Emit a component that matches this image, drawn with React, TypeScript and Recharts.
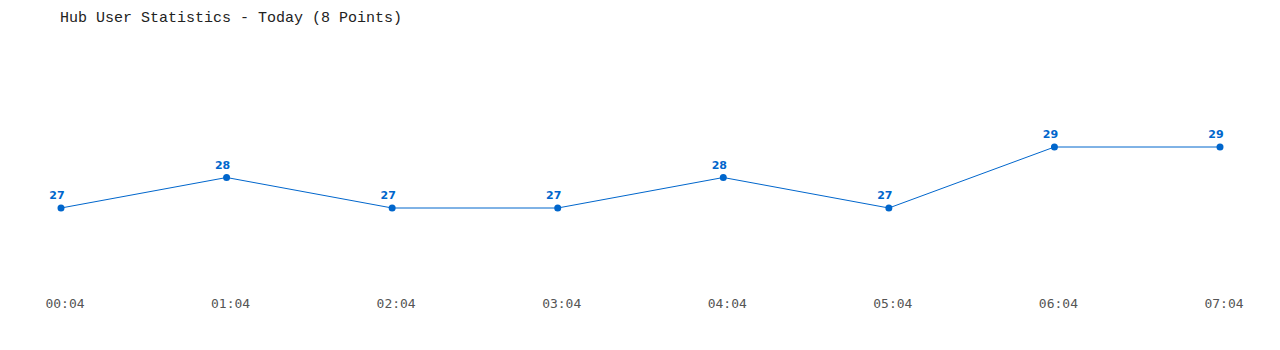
import { LineChart, Line, XAxis, YAxis, LabelList } from "recharts";

const times = ["00:04", "01:04", "02:04", "03:04", "04:04", "05:04", "06:04", "07:04"];
const users = [27, 28, 27, 27, 28, 27, 29, 29];

const data = times.map((t, i) => ({ time: t, users: users[i] }));

export default function App() {
  return (
    <div style={{ position: "fixed", top: 0, left: 0, width: 1280, height: 350, background: "#fff" }}>
      <div
        style={{
          position: "absolute",
          left: 60,
          top: 10,
          fontFamily: "'Liberation Mono', 'DejaVu Sans Mono', monospace",
          fontSize: 15,
          color: "#222",
          whiteSpace: "pre",
        }}
      >
        Hub User Statistics - Today (8 Points)
      </div>
      <LineChart
        width={1280}
        height={350}
        data={data}
        margin={{ top: 116.5, right: 60, bottom: 81.5, left: 61 }}
      >
        <XAxis
          dataKey="time"
          height={30}
          axisLine={false}
          tickLine={false}
          tickMargin={54}
          interval={0}
          tick={{
            fontSize: 13,
            fill: "#555",
            fontFamily: "'DejaVu Sans Mono', monospace",
            dx: 4,
          }}
        />
        <YAxis hide domain={[26, 30]} />
        <Line
          type="linear"
          dataKey="users"
          stroke="#0066cc"
          strokeWidth={1}
          dot={{ r: 3.5, fill: "#0066cc", stroke: "#0066cc", strokeWidth: 0 }}
          activeDot={false}
          isAnimationActive={false}
        >
          <LabelList
            dataKey="users"
            position="top"
            offset={9}
            dx={-4}
            style={{ fontSize: 11, fontWeight: "bold", fill: "#0066cc", fontFamily: "'DejaVu Sans', Verdana, sans-serif" }}
          />
        </Line>
      </LineChart>
    </div>
  );
}
